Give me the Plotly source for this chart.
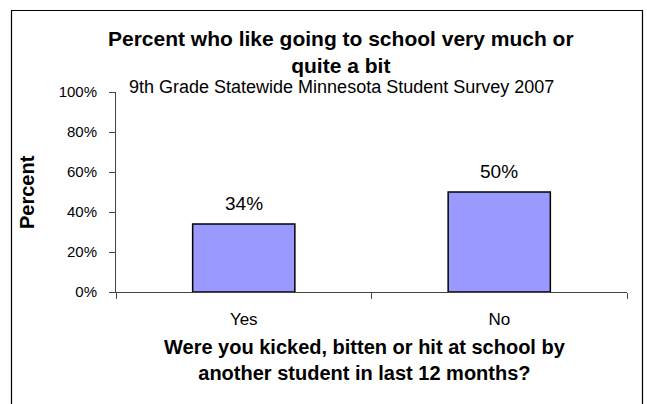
import plotly.graph_objects as go

categories = ["Yes", "No"]
values = [34, 50]
value_labels = ["34%", "50%"]
y_ticks = [0, 20, 40, 60, 80, 100]
y_tick_labels = ["0%", "20%", "40%", "60%", "80%", "100%"]

title_text = "Percent who like going to school very much or<br>quite a bit"
subtitle_text = "9th Grade Statewide Minnesota Student Survey 2007"
x_title_text = "Were you kicked, bitten or hit at school by<br>another student in last 12 months?"
y_title_text = "Percent"

W, H = 647, 404
L, R, T, B = 116, 20, 92, 112
PW = W - L - R
PH = H - T - B

def px_x(p):
    return (p - L) / PW

def px_y(p):
    return 1 - (p - T) / PH

FONT = "Liberation Sans, Arial, sans-serif"

fig = go.Figure()
fig.add_trace(go.Bar(
    x=categories, y=values, width=0.4,
    marker=dict(color="#9999FF", line=dict(color="#000000", width=1.5)),
    hoverinfo="skip",
))

annotations = []
for c, v, t in zip(categories, values, value_labels):
    annotations.append(dict(x=c, y=v, xref="x", yref="y", text=t, showarrow=False,
                            yanchor="bottom", yshift=8,
                            font=dict(family=FONT, size=19, color="#000")))

annotations.append(dict(x=px_x(341), y=px_y(25), xref="paper", yref="paper",
                        text="<b>" + title_text + "</b>", showarrow=False,
                        xanchor="center", yanchor="top", align="center",
                        font=dict(family=FONT, size=21, color="#000")))
annotations.append(dict(x=px_x(341), y=px_y(87), xref="paper", yref="paper",
                        text=subtitle_text, showarrow=False,
                        xanchor="center", yanchor="middle",
                        font=dict(family=FONT, size=18, color="#000")))
annotations.append(dict(x=px_x(365), y=px_y(334), xref="paper", yref="paper",
                        text="<b>" + x_title_text + "</b>", showarrow=False,
                        xanchor="center", yanchor="top", align="center",
                        font=dict(family=FONT, size=20, color="#000")))
annotations.append(dict(x=px_x(27), y=px_y(192), xref="paper", yref="paper",
                        text="<b>" + y_title_text + "</b>", showarrow=False,
                        textangle=-90, xanchor="center", yanchor="middle",
                        font=dict(family=FONT, size=20, color="#000")))

fig.update_layout(
    width=W, height=H,
    margin=dict(l=L, r=R, t=T, b=B),
    paper_bgcolor="white", plot_bgcolor="white",
    showlegend=False,
    annotations=annotations,
    shapes=[dict(type="rect", xref="paper", yref="paper",
                 x0=px_x(11.5), x1=px_x(642.5), y0=px_y(410), y1=px_y(10.5),
                 line=dict(color="#000", width=1.2), fillcolor="rgba(0,0,0,0)", layer="below")],
    xaxis=dict(type="category", range=[-0.5, 1.5], tickson="boundaries",
               ticks="outside", ticklen=6, tickcolor="#444", tickwidth=1,
               showline=True, linecolor="#444", linewidth=1, showgrid=False,
               ticklabelstandoff=12,
               tickfont=dict(family=FONT, size=17, color="#000"), fixedrange=True),
    yaxis=dict(range=[0, 100], tickvals=y_ticks, ticktext=y_tick_labels,
               ticks="outside", ticklen=6, tickcolor="#444", tickwidth=1,
               showline=True, linecolor="#444", linewidth=1, showgrid=False,
               zeroline=False, ticklabelstandoff=9,
               tickfont=dict(family=FONT, size=15, color="#000"), fixedrange=True),
)

fig.write_html("out.html", config={"displayModeBar": False},
               post_script="document.body.style.margin='0';document.body.style.overflow='hidden';")
